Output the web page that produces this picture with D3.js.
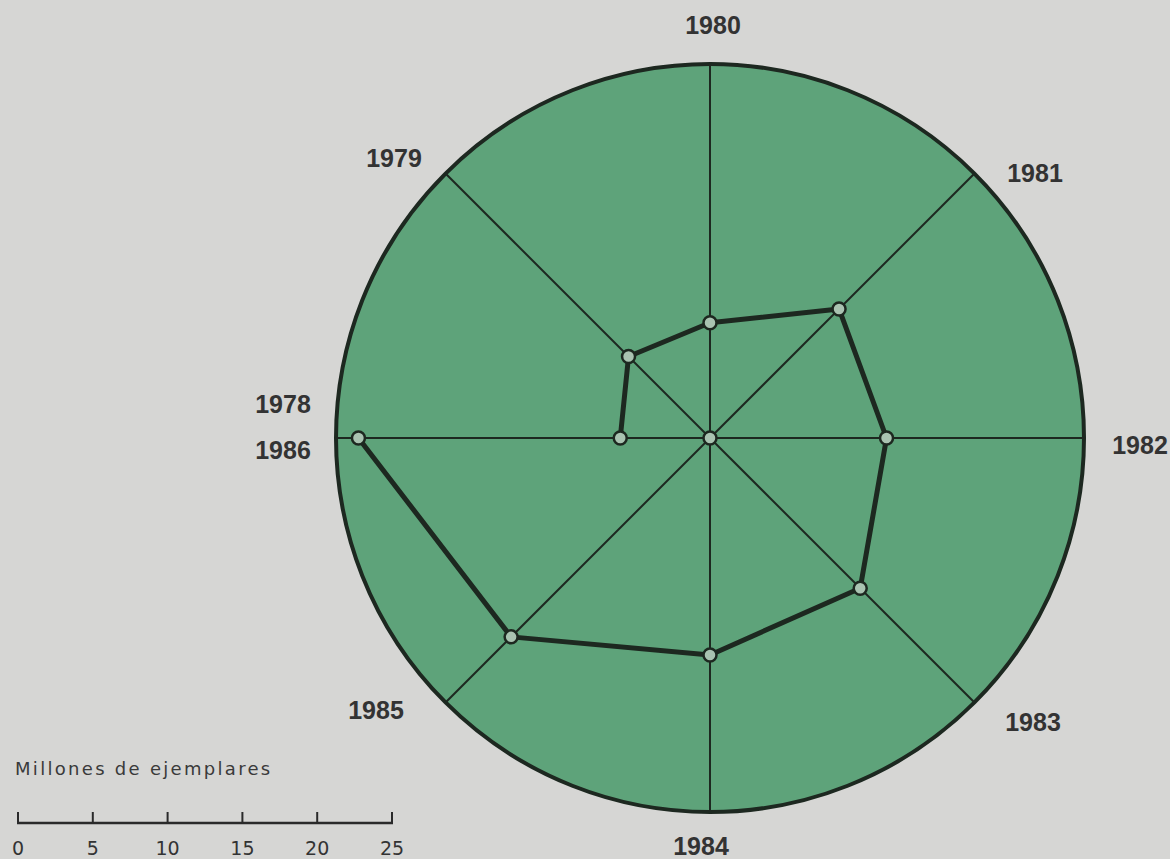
<!DOCTYPE html>
<html>
<head>
<meta charset="utf-8">
<script src="https://cdn.jsdelivr.net/npm/d3@7"></script>
<style>
  body { margin: 0; background: #d6d6d4; }
  svg { display: block; }
</style>
</head>
<body>
<div id="vis-svg"></div>
<script>
// data: one spoke per year, clockwise from the top (1978 and 1986 share the left spoke)
var spokes = ["1980", "1981", "1982", "1983", "1984", "1985", "1978/1986", "1979"];
var years = ["1978", "1979", "1980", "1981", "1982", "1983", "1984", "1985", "1986"];
var values = [6.0, 7.7, 7.7, 12.2, 11.8, 14.2, 14.5, 18.8, 23.5]; // millones de ejemplares
var spokeOfYear = [6, 7, 0, 1, 2, 3, 4, 5, 6];
var scaleTicks = [0, 5, 10, 15, 20, 25];

// layout: where each spoke's label sits, relative to the centre
var labelOffsets = [[3, -413], [325, -265], [430, 7], [323, 284], [-9, 408], [-334, 272], [-427, -11], [-316, -280]];

var width = 1170, height = 859,
  cx = 710, cy = 438,
  rMax = 374;

var svg = d3.select("#vis-svg").append("svg")
  .attr("width", width)
  .attr("height", height);

var r = d3.scaleLinear().domain([0, 25]).range([0, rMax]);
var angle = d3.scaleLinear().domain([0, spokes.length]).range([0, 2 * Math.PI]);

function px(a, rad) { return cx + rad * Math.sin(a); }
function py(a, rad) { return cy - rad * Math.cos(a); }

var ink = "#1d2820";

// green disc
svg.append("circle")
  .attr("cx", cx).attr("cy", cy).attr("r", r(25))
  .style("fill", "#5ea37a")
  .style("stroke", ink)
  .style("stroke-width", 4);

// spokes
svg.selectAll(".spoke")
  .data(spokes).enter()
  .append("line")
  .attr("x1", cx).attr("y1", cy)
  .attr("x2", function(d, i) { return px(angle(i), r(25)); })
  .attr("y2", function(d, i) { return py(angle(i), r(25)); })
  .style("stroke", ink)
  .style("stroke-width", 2);

// year labels
spokes.forEach(function(s, i) {
  var parts = s.split("/");
  parts.forEach(function(t, k) {
    var dy = parts.length > 1 ? (k === 0 ? -23 : 23) : 0;
    svg.append("text")
      .attr("x", cx + labelOffsets[i][0])
      .attr("y", cy + labelOffsets[i][1] + dy)
      .attr("text-anchor", "middle")
      .attr("dominant-baseline", "central")
      .style("font-family", "'Liberation Sans', Arial, sans-serif")
      .style("font-weight", "bold")
      .style("font-size", "25px")
      .style("fill", "#333")
      .text(t);
  });
});

// data line
var pts = values.map(function(v, i) {
  var a = angle(spokeOfYear[i]);
  return [px(a, r(v)), py(a, r(v))];
});

svg.append("path")
  .attr("d", d3.line()(pts))
  .style("fill", "none")
  .style("stroke", ink)
  .style("stroke-width", 5)
  .style("stroke-linejoin", "round");

// centre marker
svg.append("circle")
  .attr("cx", cx).attr("cy", cy).attr("r", 6.5)
  .style("fill", "#a9c3b1")
  .style("stroke", ink)
  .style("stroke-width", 2.5);

svg.selectAll(".pt")
  .data(pts).enter()
  .append("circle")
  .attr("cx", function(d) { return d[0]; })
  .attr("cy", function(d) { return d[1]; })
  .attr("r", 6.5)
  .style("fill", "#a9c3b1")
  .style("stroke", ink)
  .style("stroke-width", 2.5);

// scale bar
svg.append("text")
  .attr("x", 15).attr("y", 775)
  .style("font-family", "'DejaVu Sans', sans-serif")
  .style("font-size", "18px")
  .style("letter-spacing", "2.3px")
  .style("fill", "#3a3a3a")
  .text("Millones de ejemplares");

var bar = svg.append("g").attr("transform", "translate(18,823)");
bar.append("line")
  .attr("x1", r(0) - 1).attr("x2", r(25) + 1)
  .style("stroke", "#2a2a2a").style("stroke-width", 2.5);
bar.selectAll(".tk")
  .data(scaleTicks).enter()
  .append("line")
  .attr("x1", function(d) { return r(d); })
  .attr("x2", function(d) { return r(d); })
  .attr("y1", 1).attr("y2", -11)
  .style("stroke", "#2a2a2a").style("stroke-width", 2);
bar.selectAll(".tl")
  .data(scaleTicks).enter()
  .append("text")
  .attr("x", function(d) { return r(d); })
  .attr("y", 32)
  .attr("text-anchor", "middle")
  .style("font-family", "'DejaVu Sans', sans-serif")
  .style("font-size", "19px")
  .style("fill", "#333")
  .text(function(d) { return d; });
</script>
</body>
</html>
